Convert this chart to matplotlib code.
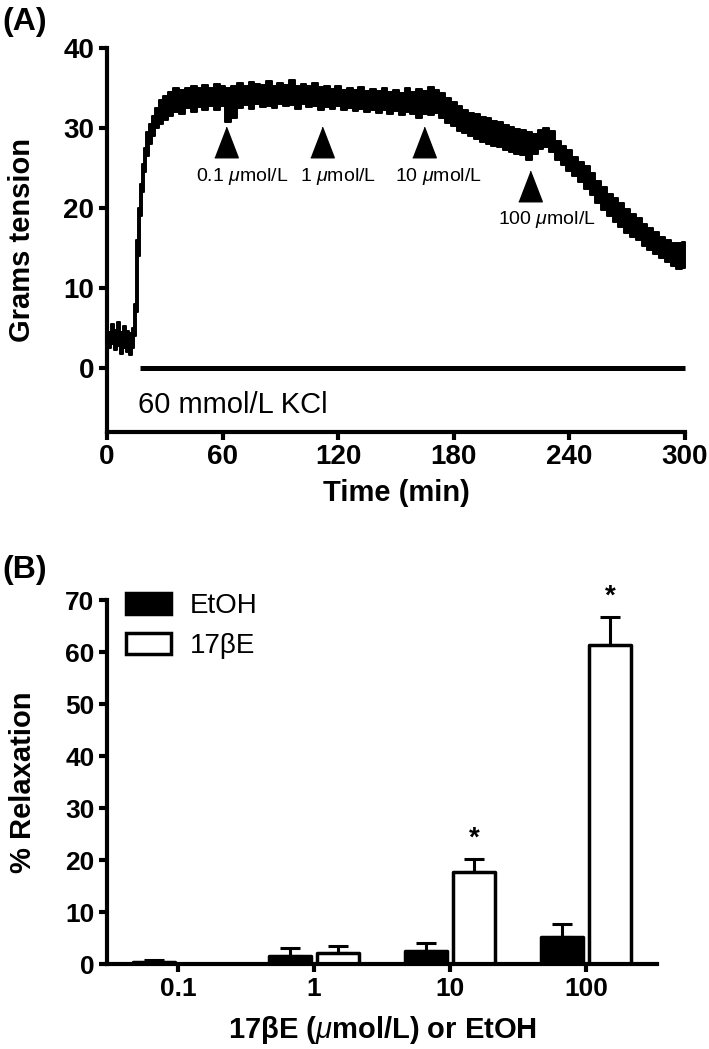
import numpy as np
import matplotlib
matplotlib.use("Agg")
import matplotlib.pyplot as plt

plt.rcParams['font.family'] = ['Liberation Sans', 'DejaVu Sans']
plt.rcParams['mathtext.fontset'] = 'custom'
plt.rcParams['mathtext.it'] = 'Liberation Sans:italic'
plt.rcParams['mathtext.rm'] = 'Liberation Sans'

# ---- panel A: tension trace (lower / upper edge of the noisy band)
trace_time = [0, 1.5, 3, 4.5, 6, 7.5, 9, 10.5, 12, 13.5, 14.5, 15.5, 16.5, 17.5, 18.5, 19.5,
              21, 22.5, 24, 26, 28, 30, 33, 36, 39, 42, 45, 48, 51, 54, 57, 60, 63, 66, 69,
              72, 75, 78, 81, 84, 87, 90, 93, 96, 99, 102, 105, 108, 111, 114, 117, 120, 123,
              126, 129, 132, 135, 138, 141, 144, 147, 150, 153, 156, 159, 162, 165, 168, 171,
              174, 177, 180, 183, 186, 189, 192, 195, 198, 201, 204, 207, 210, 213, 216, 219,
              222, 225, 228, 231, 234, 237, 240, 243, 246, 249, 252, 255, 258, 261, 264, 267,
              270, 273, 276, 279, 282, 285, 288, 291, 294, 297, 300]
trace_lo = [2.8, 2.5, 3.0, 2.2, 2.8, 1.8, 2.5, 2.0, 1.6, 2.5, 4.0, 7.0, 14.0, 19.0, 22.0, 24.5,
            26.5, 28.0, 29.0, 30.0, 30.5, 31.0, 31.5, 32.0, 31.8, 32.5, 32.0, 32.6, 32.3, 32.7,
            32.2, 32.8, 30.8, 31.2, 32.5, 32.9, 32.4, 33.0, 32.6, 32.8, 32.5, 33.0, 32.7, 32.9,
            32.4, 33.0, 32.6, 32.8, 32.3, 32.6, 32.4, 32.7, 32.2, 32.5, 32.1, 32.4, 32.0, 32.3,
            31.9, 32.3, 31.8, 32.1, 31.6, 32.0, 31.7, 31.2, 31.8, 31.6, 31.9, 31.2, 30.6, 30.2,
            29.6, 29.4, 29.0, 28.6, 28.3, 28.0, 27.8, 27.6, 27.3, 27.0, 26.7, 26.6, 26.0, 26.8,
            27.4, 27.6, 27.0, 26.0, 25.4, 24.6, 24.0, 23.2, 22.4, 21.6, 20.6, 19.8, 19.0, 18.3,
            17.6, 16.9, 16.4, 16.0, 15.3, 14.8, 14.3, 13.7, 13.3, 12.8, 12.4, 12.5]
trace_hi = [5.0, 4.5, 5.5, 4.8, 5.8, 4.5, 5.2, 4.6, 4.4, 5.0, 8.0, 16.0, 20.0, 23.0, 25.5, 27.5,
            29.5, 30.5, 31.5, 32.5, 33.5, 34.0, 34.5, 35.0, 34.8, 35.0, 35.2, 35.0, 35.4, 35.0,
            35.5, 35.2, 35.0, 35.2, 35.6, 35.3, 35.8, 35.5, 35.4, 35.9, 35.3, 35.6, 35.4, 36.0,
            35.3, 35.5, 35.2, 35.6, 35.1, 35.3, 34.9, 35.2, 34.8, 35.0, 34.7, 35.1, 34.6, 34.9,
            34.6, 35.0, 34.5, 34.8, 34.4, 35.0, 34.5, 34.9, 34.6, 35.1, 34.7, 34.4, 33.8, 33.2,
            32.7, 32.2, 31.9, 31.8, 31.4, 31.2, 30.9, 30.8, 30.4, 30.1, 29.9, 29.7, 29.5, 29.2,
            29.7, 30.0, 29.6, 28.4, 27.8, 27.2, 26.4, 25.8, 25.2, 24.4, 23.4, 22.6, 21.8, 21.3,
            20.6, 19.9, 19.3, 18.8, 18.0, 17.5, 17.0, 16.4, 16.0, 15.6, 15.6, 15.8]

dose_labels = ["0.1 $\\mu$mol/L", "1 $\\mu$mol/L", "10 $\\mu$mol/L", "100 $\\mu$mol/L"]
dose_time = [62, 111.5, 164.5, 219.5]
arrow_y = [28.2, 28.2, 28.2, 22.8]
label_time = [70, 120, 172, 228.5]
label_y = [23.9, 23.9, 23.9, 18.5]

kcl_start = 17
kcl_end = 300

# ---- panel B: % relaxation
groups = ["0.1", "1", "10", "100"]
etoh_mean = [0.4, 1.5, 2.5, 5.2]
etoh_sem = [0.4, 1.6, 1.5, 2.5]
e2_mean = [0.0, 2.1, 17.7, 61.3]
e2_sem = [0.0, 1.4, 2.5, 5.4]
star_groups = [2, 3]

fig = plt.figure(figsize=(7.09, 10.49), dpi=100)

# ================= panel A
axA = fig.add_axes([0.1509, 0.5882, 0.8152, 0.3661])
axA.fill_between(trace_time, trace_lo, trace_hi, step='mid', color='black',
                 edgecolor='black', linewidth=1.4)
axA.hlines(0, kcl_start, kcl_end, color='black', linewidth=3.6, clip_on=False)
axA.text(kcl_start - 1, -4.6, "60 mmol/L KCl", fontsize=21, va='center', ha='left')

tri = [(-1, -1.3), (1, -1.3), (0, 1.3)]
for t, y, lt, ly, lab in zip(dose_time, arrow_y, label_time, label_y, dose_labels):
    axA.plot([t], [y], marker=tri, markersize=22, color='black', linestyle='none')
    axA.text(lt, ly, lab, fontsize=14, ha='center', va='center')

axA.set_xlim(0, 300)
axA.set_ylim(-8, 40)
axA.set_xticks([0, 60, 120, 180, 240, 300])
axA.set_yticks([0, 10, 20, 30, 40])
axA.set_xlabel("Time (min)", fontsize=21, fontweight='bold', labelpad=6)
axA.set_ylabel("Grams tension", fontsize=21, fontweight='bold')
axA.yaxis.set_label_coords(-0.122, 0.5)
for s in ['top', 'right']:
    axA.spines[s].set_visible(False)
for s in ['left', 'bottom']:
    axA.spines[s].set_linewidth(3)
axA.tick_params(width=3, length=6, labelsize=20, pad=3)
for lab in axA.get_xticklabels() + axA.get_yticklabels():
    lab.set_fontweight('bold')

fig.text(0.003, 0.993, "(A)", fontsize=23, fontweight='bold', va='top', ha='left')

# ================= panel B
axB = fig.add_axes([0.1509, 0.0810, 0.7757, 0.3470])
x = np.arange(len(groups))
w = 0.31
off = 0.176
axB.errorbar(x - off, etoh_mean, yerr=[np.zeros(4), etoh_sem], fmt='none', ecolor='black',
             elinewidth=2.2, capsize=7, capthick=2.2, zorder=1)
axB.errorbar(x + off, e2_mean, yerr=[np.zeros(4), e2_sem], fmt='none', ecolor='black',
             elinewidth=2.2, capsize=7, capthick=2.2, zorder=1)
b1 = axB.bar(x - off, etoh_mean, width=w, color='black', edgecolor='black', linewidth=2.5,
             joinstyle='round', label="EtOH", zorder=2)
b2 = axB.bar(x + off, e2_mean, width=w, color='white', edgecolor='black', linewidth=2.5,
             joinstyle='round', label="17\u03b2E", zorder=2)
for g in star_groups:
    axB.text(x[g] + off, e2_mean[g] + e2_sem[g] + 1.4, "*", fontsize=20, fontweight='bold',
             ha='center', va='bottom')

axB.set_xlim(-0.522, 3.52)
axB.set_ylim(0, 70)
axB.set_xticks(x)
axB.set_xticklabels(groups)
axB.set_yticks(np.arange(0, 71, 10))
axB.set_xlabel("17\u03b2E ($\\mu$mol/L) or EtOH", fontsize=21, fontweight='bold', labelpad=10)
axB.set_ylabel("% Relaxation", fontsize=21, fontweight='bold')
axB.yaxis.set_label_coords(-0.128, 0.5)
for s in ['top', 'right']:
    axB.spines[s].set_visible(False)
for s in ['left', 'bottom']:
    axB.spines[s].set_linewidth(3)
axB.tick_params(width=3, length=6, labelsize=19, pad=3)
for lab in axB.get_xticklabels() + axB.get_yticklabels():
    lab.set_fontweight('bold')

leg = axB.legend(handles=[b1, b2], loc='upper left', bbox_to_anchor=(0.035, 1.02),
                 frameon=False, fontsize=20, handlelength=1.6, handleheight=0.8,
                 handletextpad=0.7, labelspacing=0.5, borderpad=0, borderaxespad=0)

fig.text(0.003, 0.471, "(B)", fontsize=23, fontweight='bold', va='top', ha='left')

fig.savefig("out.png", dpi=100)
